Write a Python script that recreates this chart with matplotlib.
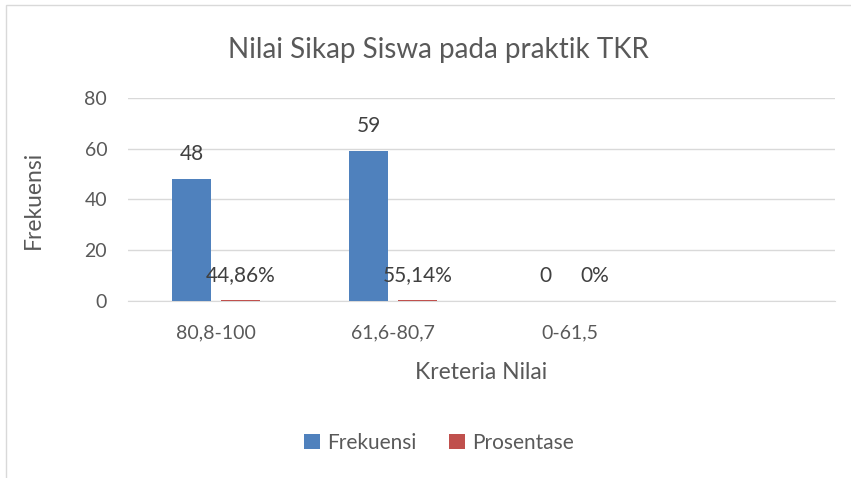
import numpy as np
import matplotlib.pyplot as plt
from matplotlib.patches import Rectangle

plt.rcParams['font.family'] = ['Lato', 'DejaVu Sans']

categories = ["80,8-100", "61,6-80,7", "0-61,5", ""]
frekuensi = [48, 59, 0, None]
prosentase = [0.4486, 0.5514, 0, None]
frek_labels = ["48", "59", "0"]
pros_labels = ["44,86%", "55,14%", "0%"]

blue = "#4F81BD"
red = "#C0504D"
grey_txt = "#595959"

fig = plt.figure(figsize=(8.51, 4.78), dpi=100)
ax = fig.add_axes([0.1504, 0.3703, 0.8308, 0.4247])

x = np.arange(len(categories))
w = 0.22
off = 0.139
fv = [v if v is not None else 0 for v in frekuensi]
pv = [v if v is not None else 0 for v in prosentase]
ax.bar(x - off, fv, w, color=blue, label="Frekuensi", zorder=3)
ax.bar(x + off, pv, w, color=red, label="Prosentase", zorder=3)

for i, lab in enumerate(frek_labels):
    ax.annotate(lab, (x[i] - off, frekuensi[i]), xytext=(0, 18), textcoords="offset points",
                ha="center", va="center", fontsize=15, color="#404040")
for i, lab in enumerate(pros_labels):
    ax.annotate(lab, (x[i] + off, prosentase[i]), xytext=(0, 18), textcoords="offset points",
                ha="center", va="center", fontsize=15, color="#404040")

ax.set_xlim(-0.5, len(categories) - 0.5)
ax.set_ylim(0, 80)
ax.set_yticks([0, 20, 40, 60, 80])
ax.set_xticks(x)
ax.set_xticklabels(categories)
ax.yaxis.grid(True, color="#D9D9D9", linewidth=1, zorder=0)
for s in ["top", "right", "left"]:
    ax.spines[s].set_visible(False)
ax.spines["bottom"].set_color("#D9D9D9")
ax.tick_params(axis="both", length=0, labelsize=14, colors=grey_txt)
ax.tick_params(axis="y", pad=15)
ax.tick_params(axis="x", pad=17)

fig.text(0.515, 0.895, "Nilai Sikap Siswa pada praktik TKR", fontsize=20,
         color=grey_txt, ha="center", va="center")
ax.set_ylabel("Frekuensi", fontsize=16.5, color=grey_txt)
ax.yaxis.set_label_coords(-0.119, 0.5)
ax.set_xlabel("Kreteria Nilai", fontsize=16.5, color=grey_txt)
ax.xaxis.set_label_coords(0.5, -0.30)

ax.legend(loc="center", bbox_to_anchor=(0.44, -0.70), ncol=2, frameon=False,
          fontsize=15, labelcolor=grey_txt, handlelength=0.75, handleheight=0.75,
          columnspacing=1.6, handletextpad=0.35)

fig.patches.append(Rectangle((0.007, -0.1), 1.2, 1.09, transform=fig.transFigure,
                             fill=False, edgecolor="#D9D9D9", linewidth=1))

fig.savefig("out.png", dpi=100)
